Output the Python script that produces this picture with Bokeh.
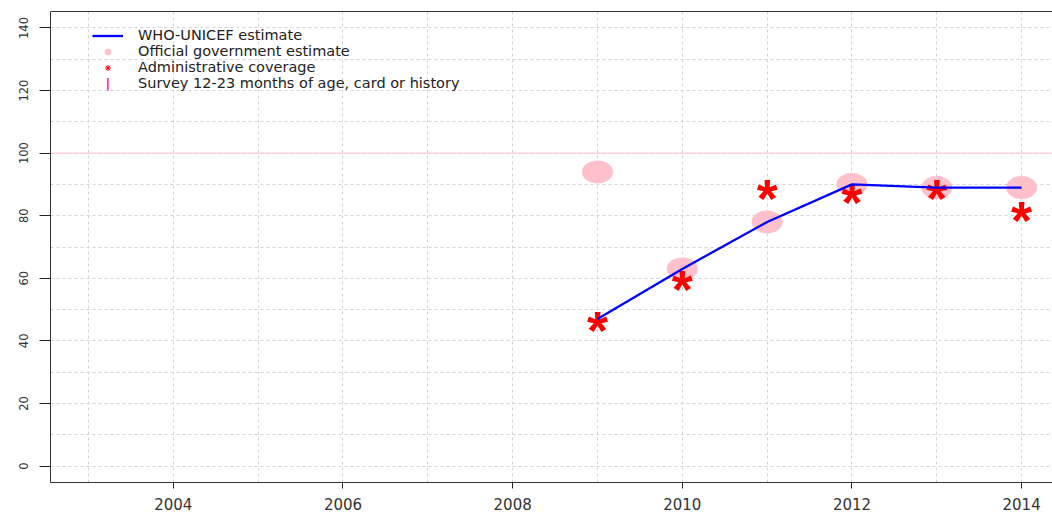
from bokeh.plotting import figure
from bokeh.models import (ColumnDataSource, Range1d, FixedTicker, LinearAxis,
                          Legend, LegendItem, Span, Label)
from bokeh.core.properties import value
from bokeh.embed import file_html
from bokeh.resources import INLINE

# ---- data ----
years = [2009, 2010, 2011, 2012, 2013, 2014]
wuenic_estimate = [47, 63, 78, 90, 89, 89]
official_estimate = [94, 63, 78, 90, 89, 89]
admin_coverage = [46, 59, 88, 87, 88, 81]

x_ticks = [2004, 2006, 2008, 2010, 2012, 2014]
x_grid = [2003, 2004, 2005, 2006, 2007, 2008, 2009, 2010, 2011, 2012, 2013, 2014]
y_ticks = [0, 20, 40, 60, 80, 100, 120, 140]
y_grid = [0, 10, 20, 30, 40, 50, 60, 70, 80, 90, 100, 110, 120, 130, 140]
reference_level = 100

legend_labels = ["WHO-UNICEF estimate", "Official government estimate",
                 "Administrative coverage", "Survey 12-23 months of age, card or history"]

src = ColumnDataSource(dict(year=years, wuenic=wuenic_estimate,
                            gov=official_estimate, admin=admin_coverage))

p = figure(width=1052, height=513, output_backend="svg", toolbar_location=None,
           x_range=Range1d(2002.552, 2014.364), y_range=Range1d(-5.27, 145.27),
           min_border_left=50, min_border_right=0, min_border_top=11, min_border_bottom=31)
p.outline_line_color = None
p.background_fill_color = "white"
p.border_fill_color = "white"

AX = "#333333"
FONT = "DejaVu Sans"

# bottom axis
xa = p.xaxis[0]
xa.ticker = FixedTicker(ticks=x_ticks)
xa.major_tick_out = 6
xa.major_tick_in = 0
xa.minor_tick_out = 0
xa.minor_tick_in = 0
xa.axis_line_color = AX
xa.major_tick_line_color = "#222222"
xa.major_label_text_font = FONT
xa.major_label_text_font_size = "15px"
xa.major_label_text_color = AX
xa.major_label_standoff = 9

# left axis
ya = p.yaxis[0]
ya.ticker = FixedTicker(ticks=y_ticks)
ya.major_tick_out = 11
ya.major_tick_in = 0
ya.minor_tick_out = 0
ya.minor_tick_in = 0
ya.axis_line_color = AX
ya.major_tick_line_color = "#222222"
ya.major_label_text_font = FONT
ya.major_label_text_font_size = "11.5px"
ya.major_label_text_color = AX
ya.major_label_orientation = "vertical"
ya.major_label_standoff = 11

# top border as an axis line
top = LinearAxis(ticker=FixedTicker(ticks=[]), major_tick_out=0, major_tick_in=0,
                 minor_tick_out=0, minor_tick_in=0, major_label_standoff=0,
                 axis_line_color=AX)
p.add_layout(top, "above")

# grids
p.xgrid[0].ticker = FixedTicker(ticks=x_grid)
p.ygrid[0].ticker = FixedTicker(ticks=y_grid)
for g in (p.xgrid[0], p.ygrid[0]):
    g.grid_line_color = "#d3d3d3"
    g.grid_line_dash = "3 3"
    g.grid_line_width = 1

p.add_layout(Span(location=reference_level, dimension="width",
                  line_color="pink", line_width=1))

# official government estimate (pink ellipses)
p.ellipse(x="year", y="gov", width=31, height=23, width_units="screen",
          height_units="screen", fill_color="pink", line_color=None, source=src)

# administrative coverage (red asterisks)
p.text(x="year", y="admin", text=value("*"), text_font=value("Liberation Sans"),
       text_font_style="bold", text_font_size=value("54px"), text_color="red",
       text_align="center", text_baseline="alphabetic", y_offset=7.8, source=src)

# WHO-UNICEF estimate
line_r = p.line(x="year", y="wuenic", line_color="blue", line_width=2.3, source=src)

# legend-only renderers (hidden on the plot, shown in the legend)
dot_r = p.scatter(x="year", y="gov", marker="circle", size=6, fill_color="pink",
                  line_color="pink", source=src, visible=False)
star_r = p.scatter(x="year", y="admin", marker="asterisk", size=6, line_color="red",
                   source=src, visible=False)
bar_r = p.scatter(x="year", y="admin", marker="circle", size=6, line_color=None,
                  fill_color=None, source=src, visible=False)

legend = Legend(items=[LegendItem(label=legend_labels[0], renderers=[line_r]),
                       LegendItem(label=legend_labels[1], renderers=[dot_r]),
                       LegendItem(label=legend_labels[2], renderers=[star_r]),
                       LegendItem(label=legend_labels[3], renderers=[bar_r])],
                location=(42, 391), orientation="vertical",
                glyph_width=31, glyph_height=15, label_height=15,
                label_standoff=15, spacing=0, padding=0, margin=0,
                border_line_color=None, background_fill_alpha=0,
                label_text_font=FONT, label_text_font_size="14.5px",
                label_text_color="#222222")
p.add_layout(legend)

# vertical bar symbol for the survey legend entry
p.add_layout(Label(x=57.5, y=399, x_units="screen", y_units="screen", text="|",
                   text_color="#ff1040", text_font=FONT, text_font_size="12px",
                   text_font_style="bold", text_align="center", text_baseline="middle"))

open("out.html", "w").write(file_html(p, INLINE))
